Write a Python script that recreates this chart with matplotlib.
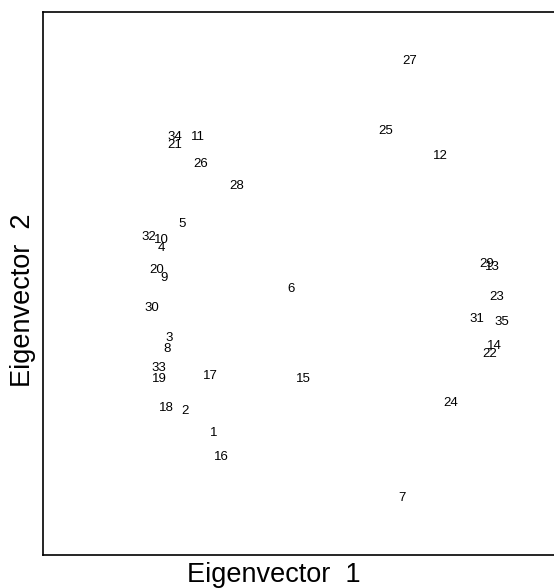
import matplotlib
matplotlib.use("Agg")
import matplotlib.pyplot as plt

plt.rcParams['font.family'] = ['Liberation Sans', 'DejaVu Sans']

# point numbers and their scores on the first two eigenvectors
labels = [str(i) for i in range(1, 36)]
ev1 = [-0.34, -0.45, -0.51, -0.54, -0.46, -0.04, 0.39, -0.52, -0.53, -0.54,
       -0.40, 0.54, 0.74, 0.75, 0.01, -0.31, -0.35, -0.52, -0.55, -0.56,
       -0.49, 0.73, 0.76, 0.58, 0.33, -0.39, 0.42, -0.25, 0.72, -0.58,
       0.68, -0.59, -0.55, -0.49, 0.78]
ev2 = [-0.55, -0.47, -0.20, 0.13, 0.22, -0.02, -0.79, -0.24, 0.02, 0.16,
       0.54, 0.47, 0.06, -0.23, -0.35, -0.64, -0.34, -0.46, -0.35, 0.05,
       0.51, -0.26, -0.05, -0.44, 0.56, 0.44, 0.82, 0.36, 0.07, -0.09,
       -0.13, 0.17, -0.31, 0.54, -0.14]

fig = plt.figure(figsize=(5.54, 5.88), dpi=100, facecolor='white')
ax = fig.add_axes([43/554, 33/588, 516/554, 543/588])

for lab, x, y in zip(labels, ev1, ev2):
    ax.text(x, y, lab, fontsize=9.5, ha='center', va='center', color='black')

ax.set_xlim(-1, 1)
ax.set_ylim(-1, 1)
ax.set_xticks([])
ax.set_yticks([])
for s in ax.spines.values():
    s.set_linewidth(1.2)

fig.text(274/554, 1 - 575/588, 'Eigenvector  1', fontsize=19.5, ha='center', va='center')
fig.text(23/554, 1 - 300/588, 'Eigenvector  2', fontsize=19.5, ha='center', va='center',
         rotation=90)

fig.savefig('out.png', dpi=100)
